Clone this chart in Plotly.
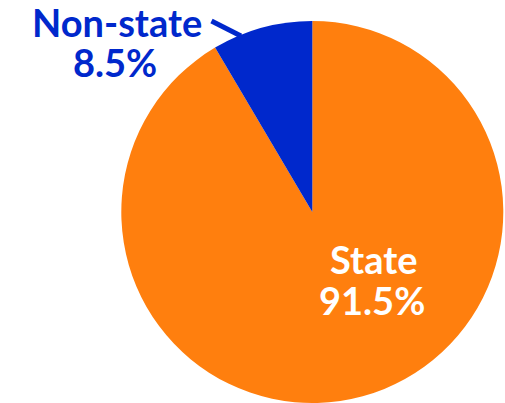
import plotly.graph_objects as go

# Data
labels = ["Non-state", "State"]
values = [8.5, 91.5]
colors = ["#0028cc", "#ff7f0e"]
text_colors = ["#0028cc", "#ffffff"]

W, H = 505, 403

def px(x, y):
    return x / W, (H - y) / H

fig = go.Figure()
fig.add_trace(go.Pie(
    labels=labels[::-1],
    values=values[::-1],
    sort=False,
    direction="clockwise",
    rotation=0,
    marker=dict(colors=colors[::-1], line=dict(width=0)),
    textinfo="none",
    hoverinfo="label+percent",
    showlegend=False,
    domain=dict(x=[121.3 / W, 503.3 / W], y=[0, 382 / H]),
))

# label positions (callout styling)
label_pos = {
    "Non-state": [(117, 21.5), (115, 61.5)],
    "State": [(373, 258.5), (371.5, 299.5)],
}
for lab, val, tc in zip(labels, values, text_colors):
    lines = [lab, f"{val:.1f}%"]
    for line, (x, y) in zip(lines, label_pos[lab]):
        xp, yp = px(x, y)
        fig.add_annotation(
            x=xp, y=yp, xref="paper", yref="paper",
            text=f"<b>{line}</b>", showarrow=False,
            xanchor="center", yanchor="middle",
            font=dict(family="Lato", size=38, color=tc),
        )

# leader line for Non-state
x0, y0 = px(211.5, 21)
x1, y1 = px(241, 36)
fig.add_shape(type="line", xref="paper", yref="paper",
              x0=x0, y0=y0, x1=x1, y1=y1,
              line=dict(color=colors[0], width=5))

fig.update_layout(
    width=W, height=H,
    margin=dict(l=0, r=0, t=0, b=0),
    paper_bgcolor="white",
    plot_bgcolor="white",
)

fig.write_html("out.html")
